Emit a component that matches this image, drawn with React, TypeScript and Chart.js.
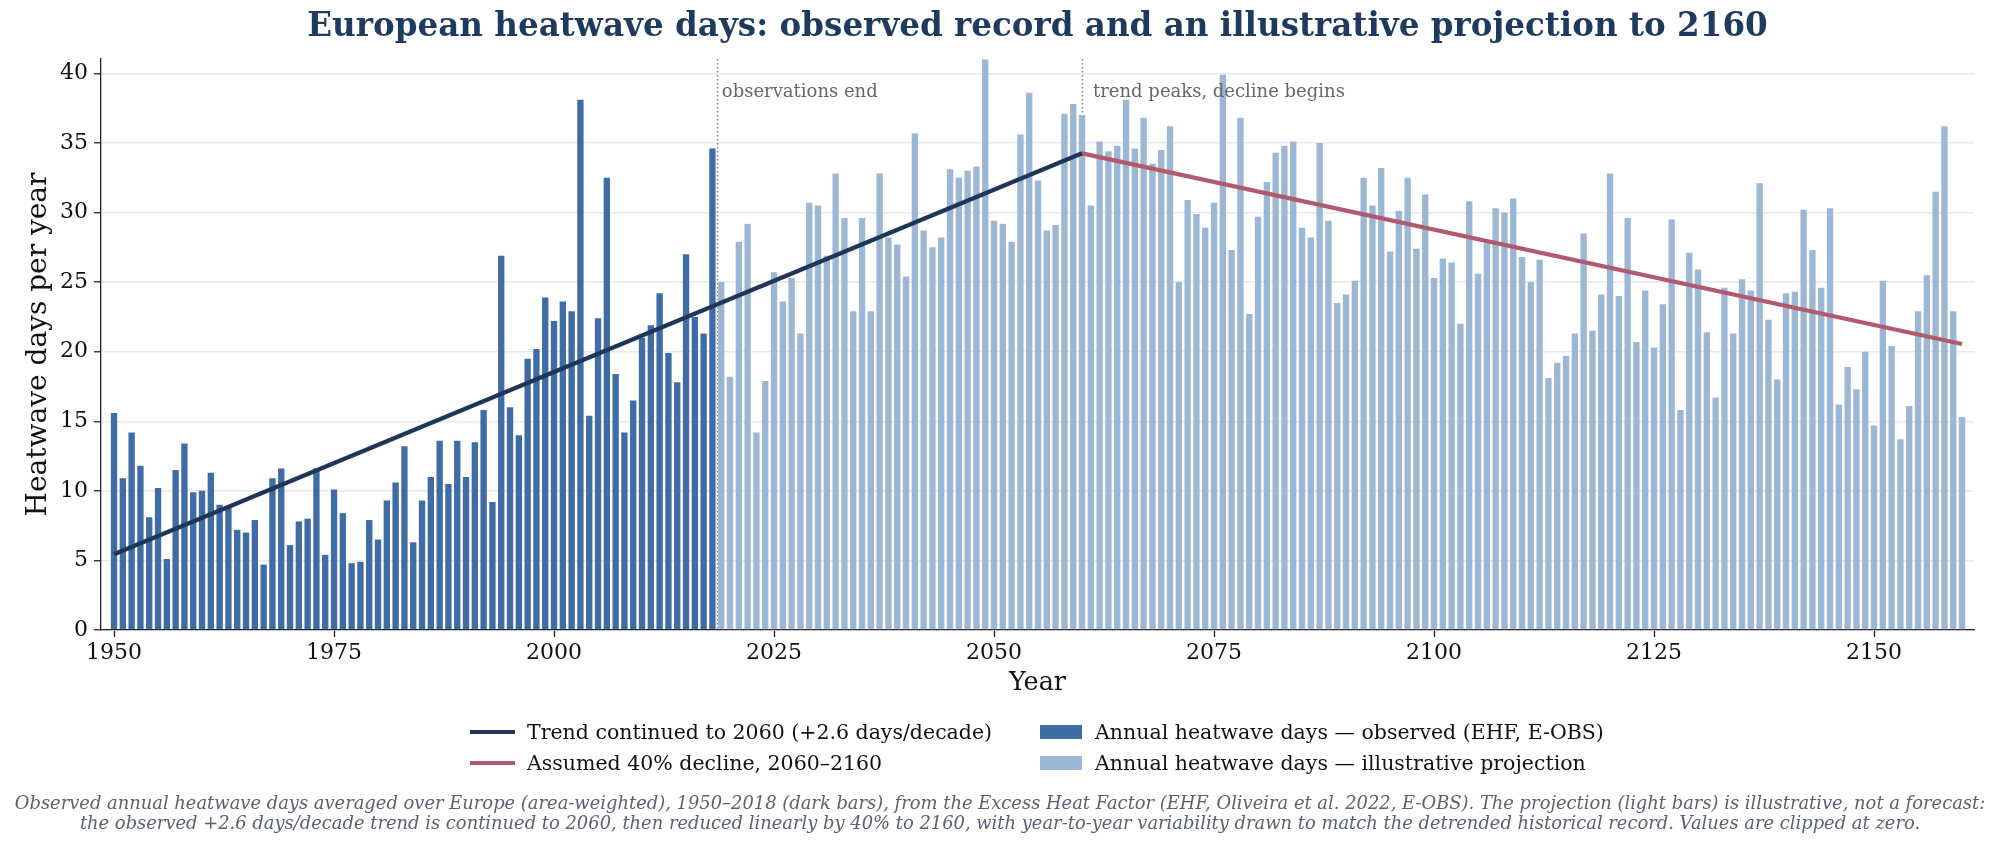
import { useEffect, useRef } from "react";
import { Chart, registerables } from "chart.js";

Chart.register(...registerables);

// ---------- data ----------
const OBS_START = 1950;
const observedDays = [
  15.6, 10.9, 14.2, 11.8, 8.1, 10.2, 5.1, 11.5, 13.4, 9.9,
  10.0, 11.3, 9.0, 8.8, 7.2, 7.0, 7.9, 4.7, 10.9, 11.6,
  6.1, 7.8, 8.0, 11.6, 5.4, 10.1, 8.4, 4.8, 4.9, 7.9,
  6.5, 9.3, 10.6, 13.2, 6.3, 9.3, 11.0, 13.6, 10.5, 13.6,
  11.0, 13.5, 15.8, 9.2, 26.9, 16.0, 14.0, 19.5, 20.2, 23.9,
  22.2, 23.6, 22.9, 38.1, 15.4, 22.4, 32.5, 18.4, 14.2, 16.5,
  21.0, 21.9, 24.2, 19.9, 17.8, 27.0, 22.5, 21.3, 34.6,
];

const PROJ_START = 2019;
const projectedDays = [
  25.0, 18.2, 27.9, 29.2, 14.2, 17.9, 25.7, 23.6, 25.3, 21.3, 30.7,
  30.5, 26.9, 32.8, 29.6, 22.9, 29.6, 22.9, 32.8, 28.2, 27.7,
  25.4, 35.7, 28.7, 27.5, 28.2, 33.1, 32.5, 33.0, 33.3, 41.0,
  29.4, 29.2, 27.9, 35.6, 38.6, 32.3, 28.7, 29.1, 37.1, 37.8,
  37.0, 30.5, 35.1, 34.4, 34.8, 38.1, 34.6, 36.8, 33.5, 34.5,
  36.2, 25.0, 30.9, 29.9, 28.9, 30.7, 39.9, 27.3, 36.8, 22.7,
  29.7, 32.2, 34.3, 34.8, 35.1, 28.9, 28.2, 35.0, 29.4, 23.5,
  24.1, 25.1, 32.5, 30.5, 33.2, 27.2, 30.1, 32.5, 27.4, 31.3,
  25.3, 26.7, 26.4, 22.0, 30.8, 25.6, 27.8, 30.3, 30.0, 31.0,
  26.8, 25.0, 26.6, 18.1, 19.2, 19.7, 21.3, 28.5, 21.5, 24.1,
  32.8, 24.0, 29.6, 20.7, 24.4, 20.3, 23.4, 29.5, 15.8, 27.1,
  25.9, 21.4, 16.7, 24.6, 21.3, 25.2, 24.4, 32.1, 22.3, 18.0,
  24.2, 24.3, 30.2, 27.3, 24.6, 30.3, 16.2, 18.9, 17.3, 20.0,
  14.7, 25.1, 20.4, 13.7, 16.1, 22.9, 25.5, 31.5, 36.2, 22.9,
  15.3,
];

const trendYears = [1950, 2060];
const trendDays = [5.45, 34.25];
const declineYears = [2060, 2160];
const declineDays = [34.25, 20.55];

const xTickYears = [1950, 1975, 2000, 2025, 2050, 2075, 2100, 2125, 2150];
const yTickValues = [0, 5, 10, 15, 20, 25, 30, 35, 40];

const markerYears = [2018.5, 2060];
const markerLabels = ["observations end", "trend peaks, decline begins"];

const legendLabels = [
  "Trend continued to 2060 (+2.6 days/decade)",
  "Assumed 40% decline, 2060\u20132160",
  "Annual heatwave days \u2014 observed (EHF, E-OBS)",
  "Annual heatwave days \u2014 illustrative projection",
];

const titleText =
  "European heatwave days: observed record and an illustrative projection to 2160";
const captionLines = [
  "Observed annual heatwave days averaged over Europe (area-weighted), 1950\u20132018 (dark bars), from the Excess Heat Factor (EHF, Oliveira et al. 2022, E-OBS). The projection (light bars) is illustrative, not a forecast:",
  "the observed +2.6 days/decade trend is continued to 2060, then reduced linearly by 40% to 2160, with year-to-year variability drawn to match the detrended historical record. Values are clipped at zero.",
];

// ---------- style ----------
const FONT = "'DejaVu Serif', serif";
const NAVY = "#1f3658";
const ROSE = "#b05a6e";
const DARK_BAR = "#3f6ca4";
const LIGHT_BAR = "#9cb7d5";
const TITLE_COLOR = "#1f3a5f";
const markerTextOffsets = [5, 11];

const markerPlugin = {
  id: "markers",
  beforeDatasetsDraw(chart: any) {
    const { ctx, chartArea, scales } = chart;
    const x = scales.x;
    ctx.save();
    ctx.strokeStyle = "#858585";
    ctx.lineWidth = 1.5;
    ctx.setLineDash([1.5, 2.5]);
    markerYears.forEach((yr) => {
      const px = Math.round(x.getPixelForValue(yr)) + 0.5;
      ctx.beginPath();
      ctx.moveTo(px, chartArea.top);
      ctx.lineTo(px, chartArea.bottom);
      ctx.stroke();
    });
    ctx.restore();
  },
  afterDatasetsDraw(chart: any) {
    const { ctx, chartArea, scales } = chart;
    const x = scales.x;
    ctx.save();
    ctx.font = `18px ${FONT}`;
    ctx.fillStyle = "#666666";
    ctx.textBaseline = "middle";
    ctx.textAlign = "left";
    markerYears.forEach((yr, i) => {
      ctx.fillText(
        markerLabels[i],
        x.getPixelForValue(yr) + markerTextOffsets[i],
        chartArea.top + 33
      );
    });
    ctx.restore();
  },
};

export default function App() {
  const canvasRef = useRef<HTMLCanvasElement | null>(null);

  useEffect(() => {
    if (!canvasRef.current) return;
    const chart = new Chart(canvasRef.current, {
      type: "bar",
      data: {
        datasets: [
          {
            type: "line",
            label: legendLabels[0],
            data: trendYears.map((x, i) => ({ x, y: trendDays[i] })),
            borderColor: NAVY,
            backgroundColor: NAVY,
            borderWidth: 4.3,
            pointRadius: 0,
            order: 0,
          },
          {
            type: "line",
            label: legendLabels[1],
            data: declineYears.map((x, i) => ({ x, y: declineDays[i] })),
            borderColor: ROSE,
            backgroundColor: ROSE,
            borderWidth: 4.3,
            pointRadius: 0,
            order: 0,
          },
          {
            type: "bar",
            label: legendLabels[2],
            data: observedDays.map((y, i) => ({ x: OBS_START + i, y })),
            backgroundColor: DARK_BAR,
            barPercentage: 0.72,
            categoryPercentage: 1,
            grouped: false,
            order: 1,
          },
          {
            type: "bar",
            label: legendLabels[3],
            data: projectedDays.map((y, i) => ({ x: PROJ_START + i, y })),
            backgroundColor: LIGHT_BAR,
            barPercentage: 0.72,
            categoryPercentage: 1,
            grouped: false,
            order: 1,
          },
        ] as any,
      },
      options: {
        animation: false,
        responsive: false,
        events: [],
        layout: { padding: { top: 59, right: 26, left: 0, bottom: 0 } },
        plugins: {
          legend: { display: false },
          tooltip: { enabled: false },
          title: { display: false },
        },
        scales: {
          x: {
            type: "linear",
            min: 1948.52,
            max: 2161.36,
            offset: false,
            grid: {
              offset: false,
              drawOnChartArea: false,
              drawTicks: true,
              tickLength: 7,
              tickColor: "#222",
              tickWidth: 1.3,
            },
            border: { color: "#222", width: 1.3 },
            ticks: {
              font: { family: FONT, size: 22 },
              color: "#111",
              padding: 3,
              maxRotation: 0,
              autoSkip: false,
              callback: (v: any) => String(v),
            },
            afterBuildTicks: (s: any) => {
              s.ticks = xTickYears.map((v) => ({ value: v }));
            },
            afterFit: (s: any) => {
              s.height = 216;
            },
            title: {
              display: true,
              text: "Year",
              font: { family: FONT, size: 25.5 },
              color: "#111",
              padding: { top: 4, bottom: 147.7 },
            },
          },
          y: {
            type: "linear",
            min: 0,
            max: 41.03,
            grid: {
              offset: false,
              color: "#e6e9ef",
              lineWidth: 1.5,
              tickLength: 7,
              tickColor: "#222",
              tickWidth: 1.3,
            },
            border: { color: "#222", width: 1.3 },
            ticks: {
              font: { family: FONT, size: 22 },
              color: "#111",
              padding: 6,
              callback: (v: any) => String(v),
            },
            afterBuildTicks: (s: any) => {
              s.ticks = yTickValues.map((v) => ({ value: v }));
            },
            afterFit: (s: any) => {
              s.width = 101;
            },
            title: {
              display: true,
              text: "Heatwave days per year",
              font: { family: FONT, size: 28 },
              color: "#111",
              padding: { top: 22, bottom: 4 },
            },
          },
        },
      } as any,
      plugins: [markerPlugin],
    });
    return () => chart.destroy();
  }, []);

  const legendItems = [
    { left: 470, top: 732, kind: "line", color: NAVY, text: legendLabels[0] },
    { left: 470, top: 763, kind: "line", color: ROSE, text: legendLabels[1] },
    { left: 1040, top: 732, kind: "patch", color: DARK_BAR, text: legendLabels[2] },
    { left: 1040, top: 763, kind: "patch", color: LIGHT_BAR, text: legendLabels[3] },
  ];

  return (
    <div
      style={{
        position: "absolute",
        left: 0,
        top: 0,
        width: 2000,
        height: 846,
        overflow: "hidden",
        background: "#ffffff",
        fontFamily: FONT,
      }}
    >
      <canvas
        ref={canvasRef}
        width={2000}
        height={846}
        style={{ position: "absolute", left: 0, top: 0, width: 2000, height: 846 }}
      />
      <div
        style={{
          position: "absolute",
          left: 101,
          width: 1873,
          top: 6,
          textAlign: "center",
          fontSize: 32.6,
          fontWeight: "bold",
          lineHeight: "38px",
          color: TITLE_COLOR,
          whiteSpace: "nowrap",
        }}
      >
        {titleText}
      </div>
      {legendItems.map((it, i) => (
        <div key={i}>
          {it.kind === "line" ? (
            <div
              style={{
                position: "absolute",
                left: it.left,
                top: it.top - 2,
                width: 45,
                height: 4,
                background: it.color,
              }}
            />
          ) : (
            <div
              style={{
                position: "absolute",
                left: it.left,
                top: it.top - 7,
                width: 42,
                height: 14,
                background: it.color,
              }}
            />
          )}
          <div
            style={{
              position: "absolute",
              left: it.left + (it.kind === "line" ? 57 : 55),
              top: it.top - 13,
              height: 26,
              lineHeight: "26px",
              fontSize: 20.5,
              color: "#111",
              whiteSpace: "nowrap",
            }}
          >
            {it.text}
          </div>
        </div>
      ))}
      <div
        style={{
          position: "absolute",
          left: 0,
          width: 2000,
          top: 793,
          textAlign: "center",
          fontSize: 17.9,
          fontStyle: "italic",
          lineHeight: "20px",
          color: "#5a6170",
        }}
      >
        {captionLines.map((l, i) => (
          <div key={i} style={{ whiteSpace: "nowrap" }}>
            {l}
          </div>
        ))}
      </div>
    </div>
  );
}
